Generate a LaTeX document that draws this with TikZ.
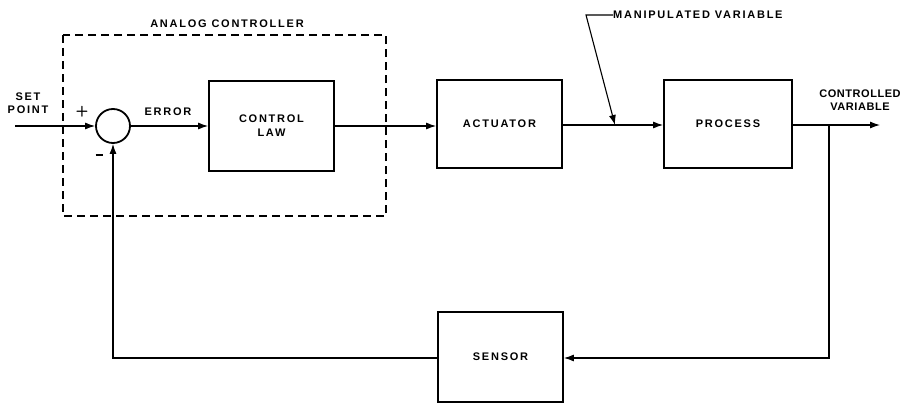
\documentclass[tikz,border=0pt]{standalone}
\usepackage{fontspec}
\newfontfamily\lblfont[LetterSpace=16]{Liberation Sans}
\newfontfamily\cvfont[LetterSpace=5]{Liberation Sans}
\usetikzlibrary{arrows.meta}
\begin{document}
\begin{tikzpicture}[x=1pt,y=-1pt,
  lbl/.style={font=\lblfont\bfseries\fontsize{11}{12}\selectfont, inner sep=0pt, align=center},
  blk/.style={draw, line width=1.8pt, rectangle, inner sep=0pt, font=\lblfont\bfseries\fontsize{11}{12}\selectfont, align=center},
  conn/.style={line width=1.1pt},
  arr/.style={conn, -{Latex[length=10pt,width=7pt]}}]
\useasboundingbox (0,0) rectangle (907,404);
% dashed controller boundary
\draw[line width=1.8pt, dash pattern=on 8pt off 5pt] (63,35) rectangle (386,216);
\node[lbl] (ac) at (227,24) {ANALOG CONTROLLER};
% blocks
\node[draw, circle, line width=1.8pt, minimum size=34pt, inner sep=0pt] (sum) at (113,126) {};
\node[blk, minimum width=125pt, minimum height=90pt] (law) at (271.5,126) {CONTROL\\[2pt]LAW};
\node[blk, minimum width=125pt, minimum height=88pt] (act) at (499.5,124) {ACTUATOR};
\node[blk, minimum width=128pt, minimum height=88pt] (proc) at (728,124) {PROCESS};
\node[blk, minimum width=125pt, minimum height=90pt] (sens) at (500.5,357) {SENSOR};
% labels
\node[lbl] (sp) at (28,103) {SET\\[1pt]POINT};
\node[lbl, font=\sffamily\bfseries\fontsize{15}{15}\selectfont] (plus) at (82,112) {+};
\node[lbl] (minus) at (99,155) {\rule{7pt}{1.8pt}};
\node[lbl] (err) at (168,112) {ERROR};
\node[lbl, font=\cvfont\bfseries\fontsize{11}{12}\selectfont] (cv) at (860,100) {CONTROLLED\\[1pt]VARIABLE};
\node[lbl, anchor=west] (mv) at (613,15) {MANIPULATED VARIABLE};
% coordinates
\coordinate (in) at (15,126);
\coordinate (out) at (880,125);
\coordinate (br) at (829,125);
\coordinate (brd) at (829,358);
\coordinate (fbl) at (113,358);
\coordinate (mvk) at (586,15);
\coordinate (mvp) at (615,125);
% connectors
\draw[arr] (in) -- (sum.west);
\draw[arr] (sum.east) -- (law.west |- sum.east);
\draw[arr] (law.east) -- (act.west |- law.east);
\draw[arr] (act.east |- 0,125) -- (proc.west |- 0,125);
\draw[arr] (proc.east |- 0,125) -- (out);
\draw[arr] (br) -- (brd) -- (sens.east |- brd);
\draw[arr] (sens.west |- fbl) -- (fbl) -- (sum.south);
\draw[arr] (mv.west) -- (mvk) -- (mvp);
\end{tikzpicture}
\end{document}
